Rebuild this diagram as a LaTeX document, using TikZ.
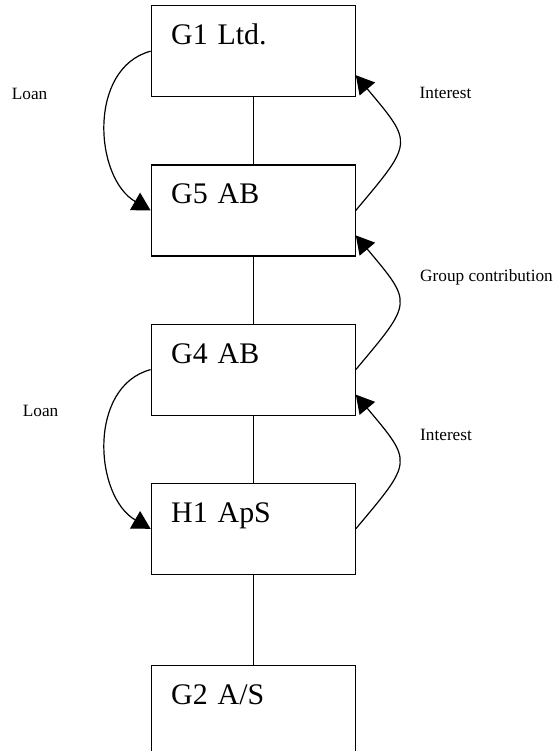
\documentclass[tikz,border=0pt]{standalone}
\usepackage{fontspec}
\setmainfont{Liberation Serif}
\usetikzlibrary{arrows.meta,positioning}
\tikzset{company/.style={draw,
    line width=1.2bp,
    font=\fontsize{30}{36}\selectfont,
    text width=164bp,
    align=left,
    inner xsep=20bp, inner ysep=18bp,
    text height=21bp, text depth=34bp
  },
  flow/.style={-{Triangle[length=18bp,width=20bp]}, line width=1.2bp},
  flowlabel/.style={font=\fontsize{17.3}{20}\selectfont, inner sep=0pt, anchor=base west},
  link/.style={line width=1.2bp}
}

\begin{document}
\begin{tikzpicture}[x=1bp,y=1bp]
    \useasboundingbox (0,0) rectangle (555,-751);
    \node[company] (g1) at (253.2,-51.2) {G1 Ltd.};
    \node[company, below=67bp of g1] (g5) {G5 AB};
    \node[company, below=67bp of g5] (g4) {G4 AB};
    \node[company, below=67bp of g4] (h1) {H1 ApS};
    \node[company, below=90bp of h1] (g2) {G2 A/S};
    \draw[link] (g1.south) -- (g5.north) (g5.south) -- (g4.north)
        (g4.south) -- (h1.north) (h1.south) -- (g2.north);
    % loans down, payments up
    \draw[flow] (g1.west) to[out=195,in=150,looseness=1.05] (g5.west);
    \draw[flow] (g4.west) to[out=195,in=150,looseness=1.05] (h1.west);
    \draw[flow] (g5.east) to[out=50,in=-50,looseness=1.7] ([yshift=-24bp]g1.east);
    \draw[flow] (g4.east) to[out=50,in=-50,looseness=1.7] ([yshift=-25bp]g5.east);
    \draw[flow] (h1.east) to[out=50,in=-50,looseness=1.7] ([yshift=-25bp]g4.east);
    \node[flowlabel] (loan1) at (11.7,-99.3) {Loan};
    \node[flowlabel] (interest1) at (419.5,-98.5) {Interest};
    \node[flowlabel] (contrib) at (420,-281) {Group contribution};
    \node[flowlabel] (loan2) at (22.7,-416.5) {Loan};
    \node[flowlabel] (interest2) at (420,-440) {Interest};
\end{tikzpicture}
\end{document}
